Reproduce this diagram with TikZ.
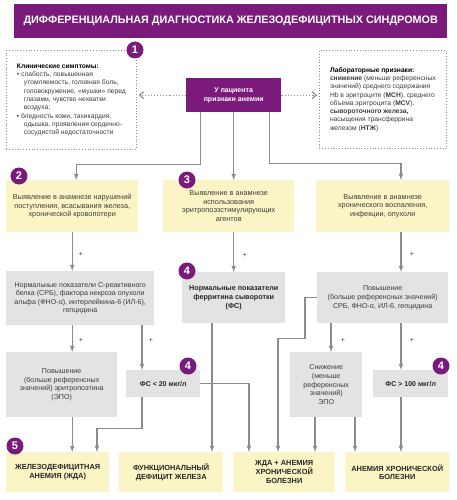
\documentclass[tikz,border=0pt]{standalone}
\usepackage{fontspec}
\setmainfont{Liberation Sans}
\usepackage{xcolor}
\usepackage{tikz}
\usetikzlibrary{calc, arrows.meta, positioning}

\definecolor{purp}{HTML}{7A1B7C}
\definecolor{yel}{HTML}{FBF5C6}
\definecolor{grb}{HTML}{E3E3E3}
\definecolor{lin}{HTML}{8C8C8C}
\definecolor{txt}{HTML}{3C3C3C}

\begin{document}
\begin{tikzpicture}[x=1pt, y=-1pt, >=latex,
    every node/.style={inner sep=2pt, text=txt},
    ybox/.style={fill=yel, anchor=north west, align=center, font=\fontsize{7.3}{8.6}\selectfont},
    gbox/.style={fill=grb, anchor=north west, align=center, font=\fontsize{7.1}{8.6}\selectfont},
    dbox/.style={draw=lin, dotted, thick, anchor=north west, align=left, inner sep=5pt, font=\fontsize{6.7}{8.3}\selectfont},
    fbox/.style={ybox, text=black!85, font=\fontsize{7.4}{8.8}\selectfont\bfseries},
    badge/.style={circle, fill=purp, text=white, minimum size=17pt, inner sep=0pt, font=\fontsize{11}{11}\selectfont\bfseries},
    conn/.style={->, draw=lin, line width=1.1pt},
    dconn/.style={-{Straight Barb[length=4pt, width=7pt]}, draw=lin, dotted, line width=1.1pt, shorten >=2pt},
    plus/.style={inner sep=0pt, font=\fontsize{7}{7}\selectfont}]

    % 0. Khung tranh
    \fill[white] (0,0) rectangle (456,500);
    \useasboundingbox (0,0) rectangle (456,500);

    % 1. Tiêu đề
    \node[fill=purp, anchor=north west, minimum width=433pt, minimum height=34pt, text=white,
        font=\fontsize{10.8}{12}\selectfont\bfseries] (title) at (14,4)
        {ДИФФЕРЕНЦИАЛЬНАЯ ДИАГНОСТИКА ЖЕЛЕЗОДЕФИЦИТНЫХ СИНДРОМОВ};

    % 2. Hàng trên: bệnh nhân, triệu chứng, xét nghiệm
    \node[fill=purp, anchor=north west, minimum width=95pt, minimum height=34pt, align=center,
        text=white, font=\fontsize{7}{8.6}\selectfont\bfseries] (pat) at (186,78)
        {У пациента\\признаки анемии};
    \node[dbox, minimum width=130pt, minimum height=99pt] (clin) at (6,50)
        {\textbf{\color{black}Клинические симптомы:}\\
        \textbullet\ слабость, повышенная\\
        \hspace*{7pt}утомляемость, головная боль,\\
        \hspace*{7pt}головокружение, «мушки» перед\\
        \hspace*{7pt}глазами, чувство нехватки\\
        \hspace*{7pt}воздуха;\\
        \textbullet\ бледность кожи, тахикардия,\\
        \hspace*{7pt}одышка, проявления сердечно-\\
        \hspace*{7pt}сосудистой недостаточности};
    \node[dbox, minimum width=127pt, minimum height=98pt] (lab) at (319,50)
        {\textbf{\color{black}Лабораторные признаки:}\\
        \textbf{снижение} (меньше референсных\\
        значений) среднего содержания\\
        Hb в эритроците (\textbf{MCH}), среднего\\
        объема эритроцита (\textbf{MCV}),\\
        \textbf{сывороточного железа,}\\
        насыщения трансферрина\\
        железом (\textbf{НТЖ})};

    % 3. Anamnez
    \node[ybox, minimum width=132pt, minimum height=52pt] (b2) at (6,180)
        {Выявление в анамнезе нарушений\\поступления, всасывания железа,\\хронической кровопотери};
    \node[ybox, minimum width=131pt, minimum height=52pt] (b3) at (163,180)
        {Выявление в анамнезе\\использования\\эритропоэзстимулирующих\\агентов};
    \node[ybox, minimum width=133pt, minimum height=52pt] (b4) at (316,180)
        {Выявление в анамнезе\\хронического воспаления,\\инфекции, опухоли};

    % 4. Xét nghiệm mức 1
    \node[gbox, minimum width=148pt, minimum height=54pt] (crpn) at (6,271)
        {Нормальные показатели С-реактивного\\белка (СРБ), фактора некроза опухоли\\альфа (ФНО-α), интерлейкина-6 (ИЛ-6),\\гепцидина};
    \node[gbox, minimum width=103pt, minimum height=51pt, text=black!85,
        font=\fontsize{7.2}{8.8}\selectfont\bfseries] (fsn) at (182,272)
        {Нормальные показатели\\ферритина сыворотки\\(ФС)};
    \node[gbox, minimum width=131pt, minimum height=51pt] (crph) at (317,272)
        {Повышение\\(больше референсных значений)\\СРБ, ФНО-α, ИЛ-6, гепцидина};

    % 5. Xét nghiệm mức 2
    \node[gbox, minimum width=111pt, minimum height=65pt] (epoh) at (6,352)
        {Повышение\\(больше референсных\\значений) эритропоэтина\\(ЭПО)};
    \node[gbox, minimum width=74pt, minimum height=27pt, text=black!85,
        font=\fontsize{7}{8}\selectfont\bfseries] (fs20) at (126,370) {ФС < 20 мкг/л};
    \node[gbox, minimum width=72pt, minimum height=65pt] (epol) at (290,352)
        {Снижение\\(меньше\\референсных\\значений)\\ЭПО};
    \node[gbox, minimum width=75pt, minimum height=27pt, text=black!85,
        font=\fontsize{7}{8}\selectfont\bfseries] (fs100) at (373,370) {ФС > 100 мкг/л};

    % 6. Kết luận
    \node[fbox, minimum width=103pt, minimum height=40pt] (ida) at (6,452)
        {ЖЕЛЕЗОДЕФИЦИТНАЯ\\АНЕМИЯ (ЖДА)};
    \node[fbox, minimum width=104pt, minimum height=40pt] (fid) at (119,452)
        {ФУНКЦИОНАЛЬНЫЙ\\ДЕФИЦИТ ЖЕЛЕЗА};
    \node[fbox, minimum width=102pt, minimum height=40pt] (mix) at (233,452)
        {ЖДА + АНЕМИЯ\\ХРОНИЧЕСКОЙ\\БОЛЕЗНИ};
    \node[fbox, minimum width=104pt, minimum height=40pt] (acd) at (345,452)
        {АНЕМИЯ ХРОНИЧЕСКОЙ\\БОЛЕЗНИ};

    % 7. Các cột đường nối
    \coordinate (colB) at (97,0);
    \coordinate (colC) at (142,0);
    \coordinate (colD) at (212,0);
    \coordinate (colE) at (249,0);
    \coordinate (colF) at (278,0);
    \coordinate (colG) at (305,0);
    \coordinate (colH) at (315,0);
    \coordinate (colI) at (331,0);
    \coordinate (colJ) at (355,0);
    \coordinate (colR) at (401,0);

    % 8. Mũi tên chấm
    \draw[dconn] (pat.west) -- (clin.east |- pat.west);
    \draw[dconn] (pat.east) -- (lab.west |- pat.east);

    % 9. Mũi tên
    \draw[conn] ([xshift=-33.5pt]pat.south) -- ++(0,52) -| ([xshift=4pt]b2.north);
    \draw[conn] (pat.south) -- (pat.south |- b3.north);
    \draw[conn] ([xshift=35.5pt]pat.south) -- ++(0,51) -| (colR |- b4.north);

    \draw[conn] (b2.south) -- (b2.south |- crpn.north);
    \draw[conn] (pat.south |- b3.south) -- (pat.south |- fsn.north);
    \draw[conn] (colR |- b4.south) -- (colR |- crph.north);

    \draw[conn] (b2.south |- crpn.south) -- (b2.south |- epoh.north);
    \draw[conn] (colC |- crpn.south) -- (colC |- fs20.north);
    \draw[conn] (colI |- crph.south) -- (colI |- epol.north);
    \draw[conn] (colR |- crph.south) -- (colR |- fs100.north);

    \draw[conn] (b2.south |- epoh.south) -- (b2.south |- ida.north);
    \draw[conn] (colC |- fs20.south) -- ++(0,31) -| (colB |- ida.north);
    \draw[conn] (colD |- fsn.south) -- (colD |- fid.north);
    \draw[conn] (fs20.east) -| (colE |- mix.north);
    \draw[conn] (crph.west) -- (colG |- crph.west) -- ++(0,41) -| (colF |- mix.north);
    \draw[conn] (colH |- epol.south) -- (colH |- mix.north);
    \draw[conn] (colJ |- epol.south) -- (colJ |- acd.north);
    \draw[conn] (colR |- fs100.south) -- (colR |- acd.north);

    % 10. Dấu cộng
    \node[plus] (q1) at (81,254) {+};
    \node[plus] (q2) at (245,255) {+};
    \node[plus] (q3) at (412,254) {+};
    \node[plus] (q4) at (81,340) {+};
    \node[plus] (q5) at (151,340) {+};
    \node[plus] (q6) at (343,340) {+};
    \node[plus] (q7) at (412,340) {+};

    % 11. Số thứ tự
    \node[badge] (n1) at (135,50) {1};
    \node[badge] (n2) at (19,176) {2};
    \node[badge] (n3) at (187,180) {3};
    \node[badge] (n4a) at (187,271) {4};
    \node[badge] (n4b) at (188,366) {4};
    \node[badge] (n4c) at (441,366) {4};
    \node[badge] (n5) at (15,446) {5};

\end{tikzpicture}
\end{document}
